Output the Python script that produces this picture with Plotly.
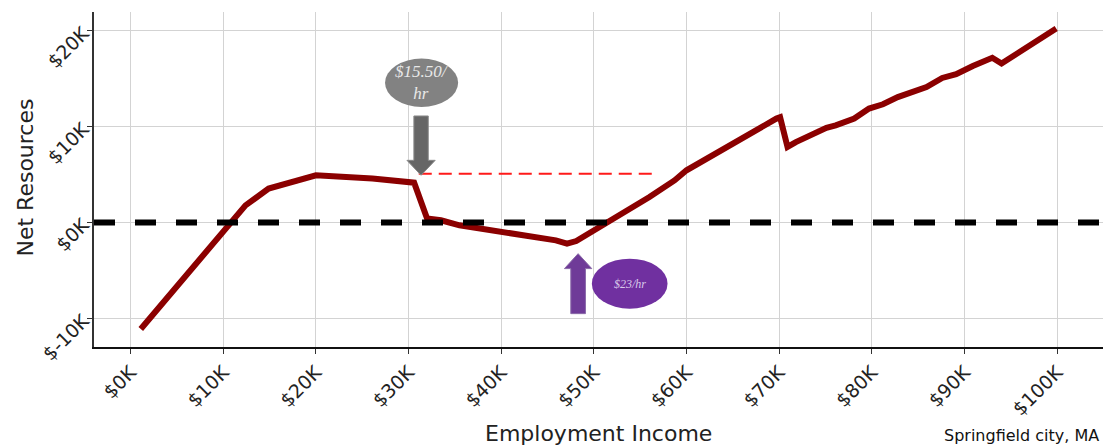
import plotly.graph_objects as go

# Employment income (thousands of $) and net resources (thousands of $)
income_k = [1.1, 12.4, 14.9, 20.0, 26.1, 30.6, 32.0, 33.5, 35.5, 45.9, 47.1, 48.1,
            56.0, 58.7, 60.0, 63.9, 65.3, 69.7, 70.1, 70.9, 71.8, 75.1, 76.1, 78.1,
            79.7, 81.2, 82.8, 84.0, 85.9, 87.6, 89.1, 90.9, 92.0, 93.0, 94.0, 99.9]
net_k = [-11.1, 1.8, 3.55, 4.94, 4.6, 4.17, 0.42, 0.24, -0.28, -1.85, -2.19, -1.92,
         2.67, 4.4, 5.46, 7.7, 8.4, 10.86, 11.0, 7.9, 8.4, 9.9, 10.15, 10.86,
         11.9, 12.35, 13.1, 13.57, 14.15, 15.1, 15.5, 16.35, 16.8, 17.2, 16.6, 20.25]

x_tickvals = [0, 10, 20, 30, 40, 50, 60, 70, 80, 90, 100]
x_ticktext = ["$0K", "$10K", "$20K", "$30K", "$40K", "$50K", "$60K", "$70K", "$80K", "$90K", "$100K"]
y_tickvals = [-10, 0, 10, 20]
y_ticktext = ["$-10K", "$0K", "$10K", "$20K"]

# reference level (net resources at the $15.50/hr wage)
cliff_level_k = 5.1
cliff_start_k = 31.1
cliff_end_k = 56.7

# wage markers
wage1_label = "<i>$15.50/<br>hr</i>"
wage1_x = 31.35
wage2_label = "<i>$23/hr</i>"
wage2_x = 48.3

XR = [-3.95, 104.95]
YR = [-12.98, 21.98]

fig = go.Figure()

fig.add_trace(go.Scatter(x=income_k, y=net_k, mode="lines",
                         line=dict(color="#8b0000", width=6), hoverinfo="skip",
                         showlegend=False))

fig.add_trace(go.Scatter(x=[cliff_start_k, cliff_end_k], y=[cliff_level_k, cliff_level_k],
                         mode="lines", line=dict(color="#ff1a1a", width=2, dash="13px,7px"),
                         showlegend=False, hoverinfo="skip"))

shapes = []
# zero line
shapes.append(dict(type="line", xref="paper", yref="y", x0=0, x1=1, y0=0, y1=0,
                   line=dict(color="black", width=6, dash="21px,20px"), layer="above"))


def arrow_path(xc, y_tail, y_head_base, y_tip, shaft_w, head_w):
    return (f"M {xc - shaft_w/2} {y_tail} L {xc + shaft_w/2} {y_tail} "
            f"L {xc + shaft_w/2} {y_head_base} L {xc + head_w/2} {y_head_base} "
            f"L {xc} {y_tip} L {xc - head_w/2} {y_head_base} "
            f"L {xc - shaft_w/2} {y_head_base} Z")


# gray down arrow and ellipse
shapes.append(dict(type="path", xref="x", yref="y",
                   path=arrow_path(wage1_x, 11.13, 6.5, 4.94, 1.55, 3.05),
                   fillcolor="#666666", line=dict(color="#8a8a8a", width=1), layer="above"))
shapes.append(dict(type="circle", xref="x", yref="y", x0=27.46, x1=35.35, y0=12.07, y1=17.12,
                   fillcolor="#828282", line=dict(width=0), layer="above"))
# purple up arrow and ellipse
shapes.append(dict(type="path", xref="x", yref="y",
                   path=arrow_path(wage2_x, -9.5, -4.8, -3.24, 1.58, 2.95),
                   fillcolor="#6f3b98", line=dict(color="#8a6aa8", width=1), layer="above"))
shapes.append(dict(type="circle", xref="x", yref="y", x0=49.78, x1=57.95, y0=-8.98, y1=-3.76,
                   fillcolor="#7030a0", line=dict(width=0), layer="above"))

annotations = [
    dict(x=(27.46 + 35.35) / 2, y=(12.07 + 17.12) / 2, xref="x", yref="y", text=wage1_label,
         showarrow=False, font=dict(family="Liberation Serif", size=17, color="#e8e8e8"),
         xanchor="center", yanchor="middle"),
    dict(x=(49.78 + 57.95) / 2, y=(-8.98 + -3.76) / 2, xref="x", yref="y", text=wage2_label,
         showarrow=False, font=dict(family="Liberation Serif", size=12, color="#d9c9ea"),
         xanchor="center", yanchor="middle"),
    dict(x=1.0, y=0, xref="paper", yref="paper", yshift=-88, xshift=-2, text="Springfield city, MA",
         showarrow=False, font=dict(family="DejaVu Sans", size=16, color="#111111"),
         xanchor="right", yanchor="middle"),
    dict(x=0.5, y=0, xref="paper", yref="paper", yshift=-86, text="Employment Income",
         showarrow=False, font=dict(family="DejaVu Sans", size=22, color="#222222"),
         xanchor="center", yanchor="middle"),
    dict(x=0, y=0.5, xref="paper", yref="paper", xshift=-69, yshift=2, text="Net Resources",
         textangle=-90, showarrow=False, font=dict(family="DejaVu Sans", size=22, color="#222222"),
         xanchor="center", yanchor="middle"),
]

fig.update_layout(
    width=1103, height=447,
    margin=dict(l=94, r=0, t=12, b=100, autoexpand=False),
    plot_bgcolor="white", paper_bgcolor="white",
    shapes=shapes, annotations=annotations,
    font=dict(family="DejaVu Sans", color="#222222"),
    xaxis=dict(range=XR, tickvals=x_tickvals, ticktext=x_ticktext, tickangle=-45,
               tickfont=dict(size=19, color="#222222"), automargin=False,
               showgrid=True, gridcolor="#d3d3d3", gridwidth=1, zeroline=False,
               showline=True, linecolor="#111111", linewidth=1.5,
               ticks="outside", ticklen=5, tickcolor="#333333"),
    yaxis=dict(range=YR, tickvals=y_tickvals, ticktext=y_ticktext, tickangle=-45,
               tickfont=dict(size=19, color="#222222"), automargin=False,
               showgrid=True, gridcolor="#d3d3d3", gridwidth=1, zeroline=False,
               showline=True, linecolor="#333333", linewidth=1.5,
               ticks="outside", ticklen=5, tickcolor="#333333"),
)

fig.write_html("out.html", config={"displayModeBar": False},
               post_script="document.body.style.margin='0';document.body.style.overflow='hidden';")
